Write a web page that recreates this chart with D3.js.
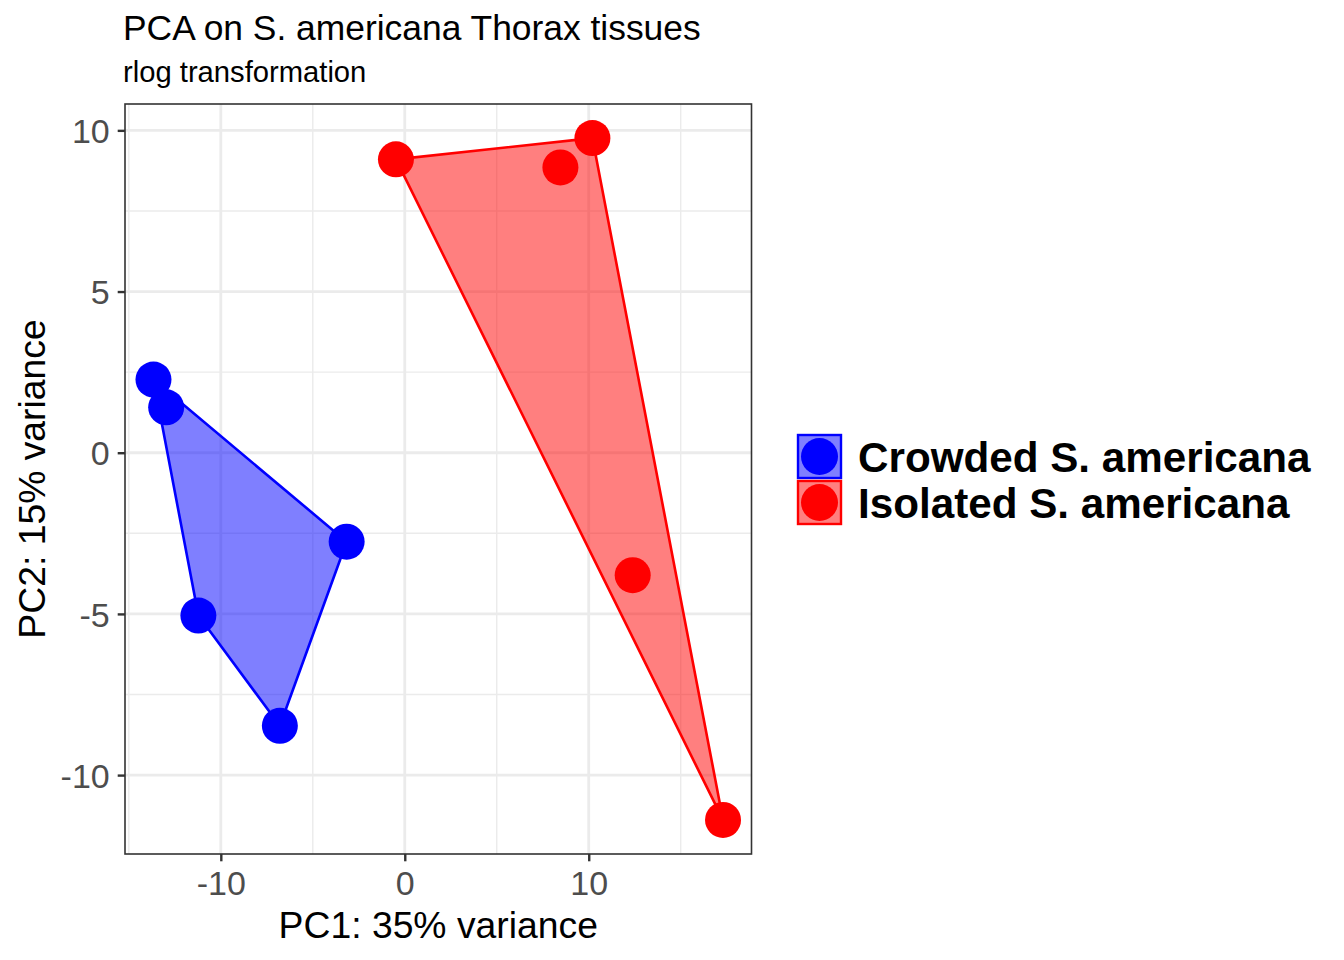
<!DOCTYPE html>
<html>
<head>
<meta charset="utf-8">
<script src="https://cdn.jsdelivr.net/npm/d3@7"></script>
<style>
  body { margin: 0; background: #fff; }
  svg { font-family: "Liberation Sans", Arial, Helvetica, sans-serif; }
</style>
</head>
<body>
<div class="viz"></div>
<script>
// PCA scores
const groups = ["Crowded S. americana", "Isolated S. americana"]
const colors = ["#0000ff", "#ff0000"]

const crowdedPC1 = [-13.66, -12.97, -3.16, -11.22, -6.79]
const crowdedPC2 = [2.27, 1.41, -2.76, -5.05, -8.47]
const isolatedPC1 = [-0.48, 10.2, 8.46, 12.39, 17.3]
const isolatedPC2 = [9.1, 9.76, 8.85, -3.8, -11.39]

const xTicks = [-10, 0, 10]
const yTicks = [-10, -5, 0, 5, 10]
const xMinor = [-15, -5, 5, 15]
const yMinor = [-7.5, -2.5, 2.5, 7.5]

const drawChart = () => {
  var w = 1344
  var h = 960
  var left = 125, right = 751.5, top = 104, bottom = 854

  const pts = [
    crowdedPC1.map((d, i) => ({ g: 0, x: d, y: crowdedPC2[i] })),
    isolatedPC1.map((d, i) => ({ g: 1, x: d, y: isolatedPC2[i] }))
  ]
  const all = pts.flat()

  // ggplot style 5% expansion
  const xe = d3.extent(all, d => d.x), ye = d3.extent(all, d => d.y)
  const xp = (xe[1] - xe[0]) * 0.05, yp = (ye[1] - ye[0]) * 0.05

  var x = d3.scaleLinear().domain([xe[0] - xp, xe[1] + xp]).range([left, right])
  var y = d3.scaleLinear().domain([ye[0] - yp, ye[1] + yp]).range([bottom, top])

  const svg = d3.select(".viz")
    .append("svg")
    .attr("width", w)
    .attr("height", h)

  // grid
  const grid = svg.append("g")
  grid.selectAll(".xmin").data(xMinor.filter(d => x(d) > left)).enter().append("line")
    .attr("x1", d => x(d)).attr("x2", d => x(d)).attr("y1", top).attr("y2", bottom)
    .attr("stroke", "#ebebeb").attr("stroke-width", 1.4)
  grid.selectAll(".ymin").data(yMinor).enter().append("line")
    .attr("y1", d => y(d)).attr("y2", d => y(d)).attr("x1", left).attr("x2", right)
    .attr("stroke", "#ebebeb").attr("stroke-width", 1.4)
  grid.selectAll(".xmaj").data(xTicks).enter().append("line")
    .attr("x1", d => x(d)).attr("x2", d => x(d)).attr("y1", top).attr("y2", bottom)
    .attr("stroke", "#ebebeb").attr("stroke-width", 2.8)
  grid.selectAll(".ymaj").data(yTicks).enter().append("line")
    .attr("y1", d => y(d)).attr("y2", d => y(d)).attr("x1", left).attr("x2", right)
    .attr("stroke", "#ebebeb").attr("stroke-width", 2.8)

  // hulls
  pts.forEach((p, gi) => {
    const hull = d3.polygonHull(p.map(d => [x(d.x), y(d.y)]))
    svg.append("path")
      .attr("d", "M" + hull.join("L") + "Z")
      .attr("fill", colors[gi])
      .attr("fill-opacity", 0.5)
      .attr("stroke", colors[gi])
      .attr("stroke-width", 2.6)
      .attr("stroke-linejoin", "round")
  })

  // points
  svg.selectAll("circle.pt")
    .data(all)
    .enter()
    .append("circle")
    .attr("class", "pt")
    .attr("cx", d => x(d.x))
    .attr("cy", d => y(d.y))
    .attr("r", 18)
    .attr("fill", d => colors[d.g])

  // panel border
  svg.append("rect")
    .attr("x", left).attr("y", top)
    .attr("width", right - left).attr("height", bottom - top)
    .attr("fill", "none").attr("stroke", "#333333").attr("stroke-width", 1.6)

  // axes (plain hyphen minus like R)
  const fmt = d => String(d)
  const xAxis = svg.append("g")
    .attr("transform", `translate(0,${bottom})`)
    .call(d3.axisBottom(x).tickValues(xTicks).tickSize(7.3).tickPadding(9).tickFormat(fmt))
  const yAxis = svg.append("g")
    .attr("transform", `translate(${left},0)`)
    .call(d3.axisLeft(y).tickValues(yTicks).tickSize(7.3).tickPadding(8).tickFormat(fmt))
  ;[xAxis, yAxis].forEach(a => {
    a.select(".domain").remove()
    a.selectAll(".tick line").attr("stroke", "#333333").attr("stroke-width", 2.4)
    a.selectAll(".tick text")
      .attr("fill", "#4d4d4d")
      .style("font-size", "34px")
      .style("font-family", "Liberation Sans, Arial, sans-serif")
  })
  xAxis.selectAll(".tick text").attr("dy", "0.72em")
  yAxis.selectAll(".tick text").attr("dy", "0.36em")

  // axis titles
  svg.append("text")
    .attr("x", (left + right) / 2).attr("y", 938)
    .attr("text-anchor", "middle")
    .style("font-size", "37.3px")
    .text("PC1: 35% variance")
  svg.append("text")
    .attr("transform", `translate(45,${(top + bottom) / 2}) rotate(-90)`)
    .attr("text-anchor", "middle")
    .style("font-size", "37.3px")
    .text("PC2: 15% variance")

  // titles
  svg.append("text").attr("x", 123).attr("y", 40)
    .style("font-size", "35.4px").text("PCA on S. americana Thorax tissues")
  svg.append("text").attr("x", 123).attr("y", 82)
    .style("font-size", "29.2px").text("rlog transformation")

  // legend
  const lg = svg.append("g")
  groups.forEach((g, i) => {
    const ky = 434 + i * 46
    lg.append("rect")
      .attr("x", 798).attr("y", ky + 1).attr("width", 43).attr("height", 43)
      .attr("fill", colors[i]).attr("fill-opacity", 0.5)
      .attr("stroke", colors[i]).attr("stroke-width", 2.4)
    lg.append("circle")
      .attr("cx", 819.5).attr("cy", ky + 22.5).attr("r", 18.5)
      .attr("fill", colors[i])
    lg.append("text")
      .attr("x", 858).attr("y", ky + 38)
      .style("font-size", "42.2px").style("font-weight", "bold")
      .text(g)
  })
}

drawChart()
</script>
</body>
</html>
